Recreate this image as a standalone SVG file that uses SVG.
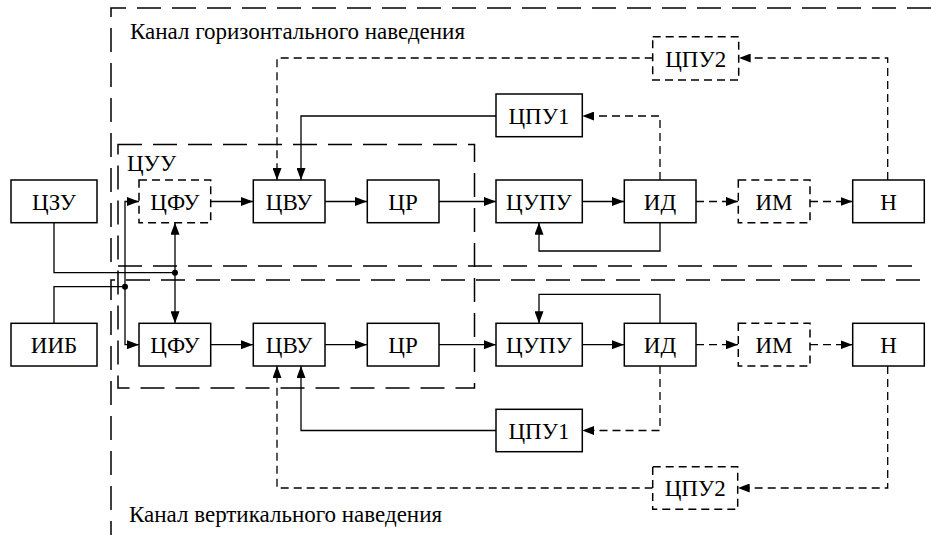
<svg xmlns="http://www.w3.org/2000/svg" width="931" height="535" viewBox="0 0 931 535">
<defs>
<marker id="ah" markerUnits="userSpaceOnUse" markerWidth="12" markerHeight="9" refX="12" refY="4.5" orient="auto">
<path d="M0,0 L12,4.5 L0,9 z" fill="#000"/>
</marker>
</defs>
<rect width="931" height="535" fill="#fff"/>
<g id="borders" fill="none" stroke="#000" stroke-width="1.5" stroke-dasharray="24 11">
<path d="M931,8 H111 V266 H920"/>
<path d="M920,280 H111 V535"/>
<rect x="118" y="144.5" width="356.5" height="243.5"/>
</g>
<text font-family="Times New Roman" font-size="23" x="130" y="39">Канал горизонтального наведения</text>
<text font-family="Times New Roman" font-size="23" x="129" y="522">Канал вертикального наведения</text>
<text font-family="Times New Roman" font-size="23" x="127" y="171">ЦУУ</text>
<g id="connectors" fill="none" stroke="#000" stroke-width="1.3">
<g marker-end="url(#ah)">
<path d="M211,201.5 H253"/>
<path d="M325,201.5 H367"/>
<path d="M439,201.5 H496"/>
<path d="M582,201.5 H624"/>
<path d="M660,222.7 V251 H539 V222.7"/>
<path d="M496,116 H301 V180"/>
<path d="M175,272.7 V222.7"/>
<path d="M175,272.7 V323.3"/>
<path d="M125,286.7 V201.5 H139"/>
<path d="M125,286.7 V344.7 H139"/>
<path d="M211,344.7 H253"/>
<path d="M325,344.7 H367"/>
<path d="M439,344.7 H496"/>
<path d="M582,344.7 H624"/>
<path d="M660,323.3 V294.3 H539 V323.3"/>
<path d="M496,430.5 H301 V366"/>
</g>
<g marker-end="url(#ah)" stroke-dasharray="8 5">
<path d="M696,201.5 H738"/>
<path d="M810,201.5 H852.5"/>
<path d="M660,180 V116 H582.3"/>
<path d="M887.7,180 V58 H738.7"/>
<path d="M652.7,58 H277 V180"/>
<path d="M696,344.7 H738"/>
<path d="M810,344.7 H852.5"/>
<path d="M660,366 V430.5 H582.3"/>
<path d="M887.7,366 V488 H737.7"/>
<path d="M652.7,488 H277 V366"/>
</g>
<path d="M54,222.7 V272.7 H175"/>
<path d="M54,323.3 V286.7 H125"/>
<circle cx="175" cy="272.7" r="3" fill="#000" stroke="none"/>
<circle cx="125" cy="286.7" r="3" fill="#000" stroke="none"/>
</g>
<g id="czu"><rect x="11" y="180" width="86" height="42.7" fill="#fff" stroke="#000" stroke-width="1.5"/><text font-family="Times New Roman" font-size="23" text-anchor="middle" x="54" y="209.5">ЦЗУ</text></g>
<g id="cfu1"><rect x="139" y="180" width="71.7" height="42.7" fill="#fff" stroke="#000" stroke-width="1.5" stroke-dasharray="8 5"/><text font-family="Times New Roman" font-size="23" text-anchor="middle" x="175" y="209.5">ЦФУ</text></g>
<g id="cvu1"><rect x="253.3" y="180" width="71.7" height="42.7" fill="#fff" stroke="#000" stroke-width="1.5"/><text font-family="Times New Roman" font-size="23" text-anchor="middle" x="289" y="209.5">ЦВУ</text></g>
<g id="cr1"><rect x="367.3" y="180" width="71.7" height="42.7" fill="#fff" stroke="#000" stroke-width="1.5"/><text font-family="Times New Roman" font-size="23" text-anchor="middle" x="403" y="209.5">ЦР</text></g>
<g id="cupu1"><rect x="496" y="180" width="86.3" height="42.7" fill="#fff" stroke="#000" stroke-width="1.5"/><text font-family="Times New Roman" font-size="23" text-anchor="middle" x="539" y="209.5">ЦУПУ</text></g>
<g id="id1"><rect x="624.3" y="180" width="71.7" height="42.7" fill="#fff" stroke="#000" stroke-width="1.5"/><text font-family="Times New Roman" font-size="23" text-anchor="middle" x="660" y="209.5">ИД</text></g>
<g id="im1"><rect x="738.3" y="180" width="71.7" height="42.7" fill="#fff" stroke="#000" stroke-width="1.5" stroke-dasharray="8 5"/><text font-family="Times New Roman" font-size="23" text-anchor="middle" x="774" y="209.5">ИМ</text></g>
<g id="n1"><rect x="852.7" y="180" width="71.6" height="42.7" fill="#fff" stroke="#000" stroke-width="1.5"/><text font-family="Times New Roman" font-size="23" text-anchor="middle" x="888.5" y="209.5">Н</text></g>
<g id="cpu1a"><rect x="496" y="94" width="86.3" height="42.7" fill="#fff" stroke="#000" stroke-width="1.5"/><text font-family="Times New Roman" font-size="23" text-anchor="middle" x="539" y="123.5">ЦПУ1</text></g>
<g id="cpu2a"><rect x="652.7" y="36.7" width="86" height="43.3" fill="#fff" stroke="#000" stroke-width="1.5" stroke-dasharray="8 5"/><text font-family="Times New Roman" font-size="23" text-anchor="middle" x="695.7" y="66.5">ЦПУ2</text></g>
<g id="iib"><rect x="11" y="323.3" width="86" height="42.7" fill="#fff" stroke="#000" stroke-width="1.5"/><text font-family="Times New Roman" font-size="23" text-anchor="middle" x="54" y="352.5">ИИБ</text></g>
<g id="cfu2"><rect x="139" y="323.3" width="71.7" height="42.7" fill="#fff" stroke="#000" stroke-width="1.5"/><text font-family="Times New Roman" font-size="23" text-anchor="middle" x="175" y="352.5">ЦФУ</text></g>
<g id="cvu2"><rect x="253.3" y="323.3" width="71.7" height="42.7" fill="#fff" stroke="#000" stroke-width="1.5"/><text font-family="Times New Roman" font-size="23" text-anchor="middle" x="289" y="352.5">ЦВУ</text></g>
<g id="cr2"><rect x="367.3" y="323.3" width="71.7" height="42.7" fill="#fff" stroke="#000" stroke-width="1.5"/><text font-family="Times New Roman" font-size="23" text-anchor="middle" x="403" y="352.5">ЦР</text></g>
<g id="cupu2"><rect x="496" y="323.3" width="86.3" height="42.7" fill="#fff" stroke="#000" stroke-width="1.5"/><text font-family="Times New Roman" font-size="23" text-anchor="middle" x="539" y="352.5">ЦУПУ</text></g>
<g id="id2"><rect x="624.3" y="323.3" width="71.7" height="42.7" fill="#fff" stroke="#000" stroke-width="1.5"/><text font-family="Times New Roman" font-size="23" text-anchor="middle" x="660" y="352.5">ИД</text></g>
<g id="im2"><rect x="738.3" y="323.3" width="71.7" height="42.7" fill="#fff" stroke="#000" stroke-width="1.5" stroke-dasharray="8 5"/><text font-family="Times New Roman" font-size="23" text-anchor="middle" x="774" y="352.5">ИМ</text></g>
<g id="n2"><rect x="852.7" y="323.3" width="71.6" height="42.7" fill="#fff" stroke="#000" stroke-width="1.5"/><text font-family="Times New Roman" font-size="23" text-anchor="middle" x="888.5" y="352.5">Н</text></g>
<g id="cpu1b"><rect x="496" y="409.3" width="86.3" height="42.4" fill="#fff" stroke="#000" stroke-width="1.5"/><text font-family="Times New Roman" font-size="23" text-anchor="middle" x="539" y="438.5">ЦПУ1</text></g>
<g id="cpu2b"><rect x="652.7" y="466.7" width="85" height="42.6" fill="#fff" stroke="#000" stroke-width="1.5" stroke-dasharray="8 5"/><text font-family="Times New Roman" font-size="23" text-anchor="middle" x="695.2" y="496">ЦПУ2</text></g>
</svg>
